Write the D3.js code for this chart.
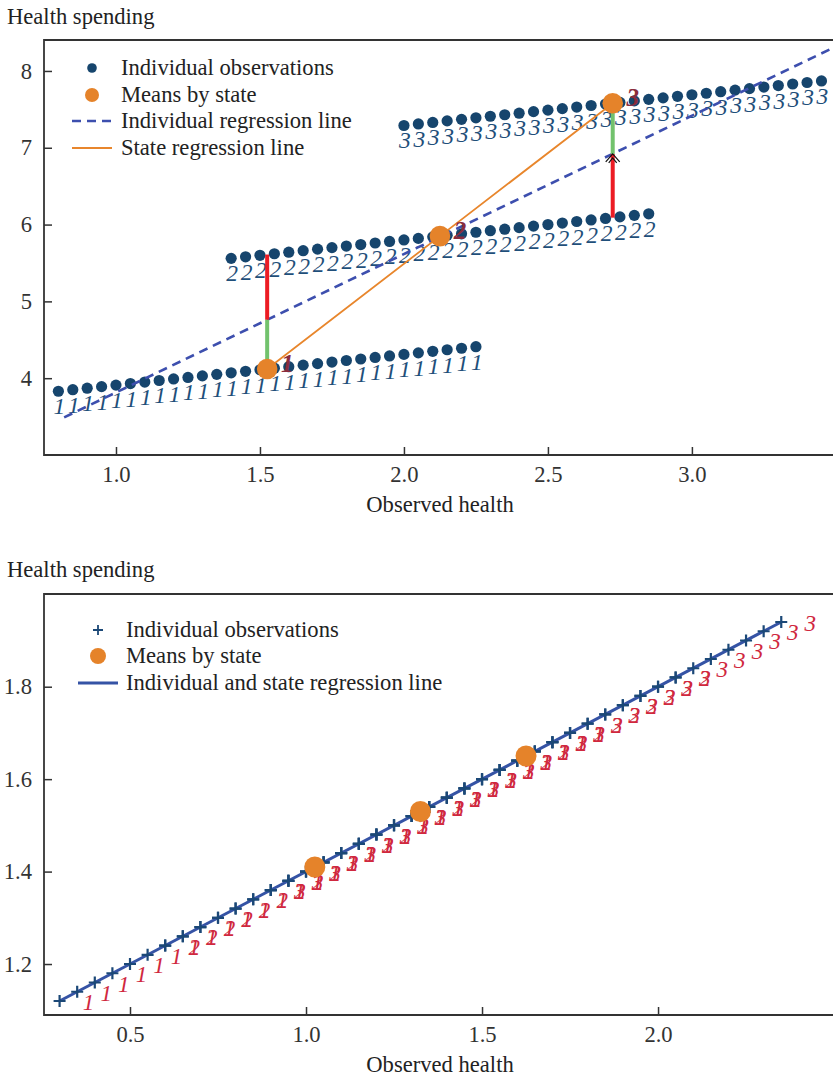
<!DOCTYPE html>
<html>
<head>
<meta charset="utf-8">
<script src="https://cdn.jsdelivr.net/npm/d3@7"></script>
<style>
  body { margin: 0; background: #fff; }
  svg { display: block; }
</style>
</head>
<body>
<svg id="chart" width="833" height="1080"></svg>
<script>
// ---- top panel: states with their own intercepts ----
var topLabels = ["1", "2", "3"];
var topX1 = [0.80,0.85,0.90,0.95,1.00,1.05,1.10,1.15,1.20,1.25,1.30,1.35,1.40,1.45,1.50,1.55,1.60,1.65,1.70,1.75,1.80,1.85,1.90,1.95,2.00,2.05,2.10,2.15,2.20,2.25];
var topY1 = [3.83,3.85,3.87,3.89,3.91,3.93,3.95,3.97,3.99,4.01,4.03,4.05,4.07,4.09,4.11,4.13,4.15,4.17,4.19,4.21,4.23,4.25,4.27,4.29,4.31,4.33,4.35,4.37,4.39,4.41];
var topX2 = [1.40,1.45,1.50,1.55,1.60,1.65,1.70,1.75,1.80,1.85,1.90,1.95,2.00,2.05,2.10,2.15,2.20,2.25,2.30,2.35,2.40,2.45,2.50,2.55,2.60,2.65,2.70,2.75,2.80,2.85];
var topY2 = [5.56,5.58,5.60,5.62,5.64,5.66,5.68,5.70,5.72,5.74,5.76,5.78,5.80,5.82,5.84,5.86,5.88,5.90,5.92,5.94,5.96,5.98,6.00,6.02,6.04,6.06,6.08,6.10,6.12,6.14];
var topX3 = [2.00,2.05,2.10,2.15,2.20,2.25,2.30,2.35,2.40,2.45,2.50,2.55,2.60,2.65,2.70,2.75,2.80,2.85,2.90,2.95,3.00,3.05,3.10,3.15,3.20,3.25,3.30,3.35,3.40,3.45];
var topY3 = [7.29,7.31,7.33,7.35,7.37,7.39,7.41,7.43,7.45,7.47,7.49,7.51,7.53,7.55,7.57,7.59,7.61,7.63,7.65,7.67,7.69,7.71,7.73,7.75,7.77,7.79,7.81,7.83,7.85,7.87];
var topMeanX = [1.525, 2.125, 2.725];
var topMeanY = [4.12, 5.85, 7.58];
var topIndivLineX = [0.82, 3.49];
var topIndivLineY = [3.49, 8.30];
// vertical gaps: green = state effect part, red = rest
var greenX = [1.525, 2.725], greenY0 = [4.12, 6.92], greenY1 = [4.76, 7.58];
var redX = [1.525, 2.725], redY0 = [4.76, 6.09], redY1 = [5.61, 6.92];
var topXTicks = [1.0, 1.5, 2.0, 2.5, 3.0];
var topYTicks = [4, 5, 6, 7, 8];

// ---- bottom panel: no state effect ----
var botX1 = [0.30,0.35,0.40,0.45,0.50,0.55,0.60,0.65,0.70,0.75,0.80,0.85,0.90,0.95,1.00,1.05,1.10,1.15,1.20,1.25,1.30,1.35,1.40,1.45,1.50,1.55,1.60,1.65,1.70,1.75];
var botY1 = [1.12,1.14,1.16,1.18,1.20,1.22,1.24,1.26,1.28,1.30,1.32,1.34,1.36,1.38,1.40,1.42,1.44,1.46,1.48,1.50,1.52,1.54,1.56,1.58,1.60,1.62,1.64,1.66,1.68,1.70];
var botX2 = [0.60,0.65,0.70,0.75,0.80,0.85,0.90,0.95,1.00,1.05,1.10,1.15,1.20,1.25,1.30,1.35,1.40,1.45,1.50,1.55,1.60,1.65,1.70,1.75,1.80,1.85,1.90,1.95,2.00,2.05];
var botY2 = [1.24,1.26,1.28,1.30,1.32,1.34,1.36,1.38,1.40,1.42,1.44,1.46,1.48,1.50,1.52,1.54,1.56,1.58,1.60,1.62,1.64,1.66,1.68,1.70,1.72,1.74,1.76,1.78,1.80,1.82];
var botX3 = [0.90,0.95,1.00,1.05,1.10,1.15,1.20,1.25,1.30,1.35,1.40,1.45,1.50,1.55,1.60,1.65,1.70,1.75,1.80,1.85,1.90,1.95,2.00,2.05,2.10,2.15,2.20,2.25,2.30,2.35];
var botY3 = [1.36,1.38,1.40,1.42,1.44,1.46,1.48,1.50,1.52,1.54,1.56,1.58,1.60,1.62,1.64,1.66,1.68,1.70,1.72,1.74,1.76,1.78,1.80,1.82,1.84,1.86,1.88,1.90,1.92,1.94];
var botMeanX = [1.025, 1.325, 1.625];
var botMeanY = [1.41, 1.53, 1.65];
var botLineX = [0.30, 2.35];
var botLineY = [1.12, 1.94];
var botXTicks = [0.5, 1.0, 1.5, 2.0];
var botYTicks = [1.2, 1.4, 1.6, 1.8];

var font = '"Liberation Serif", "Times New Roman", serif';
var fontSize = "22.6px";
var navy = "#16456d", orange = "#e5832a", dashBlue = "#3d4fae";
var svg = d3.select("#chart");

var xTop = d3.scaleLinear().domain([0.75, 3.49]).range([44, 833]);
var yTop = d3.scaleLinear().domain([3.0, 8.403]).range([455, 40]);
var xBot = d3.scaleLinear().domain([0.2557, 2.497]).range([44, 833]);
var yBot = d3.scaleLinear().domain([1.0897, 2.0006]).range([1015, 594]);

function addText(x, y, txt, anchor) {
  return svg.append("text").attr("x", x).attr("y", y)
    .attr("text-anchor", anchor || "start")
    .style("font-family", font).style("font-size", fontSize).attr("fill", "#222")
    .text(txt);
}

function addAxes(x, y, xTicks, yTicks, xFmt, yFmt) {
  var x0 = x.range()[0], x1 = x.range()[1], y0 = y.range()[0], y1 = y.range()[1];
  var gx = svg.append("g").attr("transform", "translate(0," + y0 + ")")
    .call(d3.axisBottom(x).tickValues(xTicks).tickFormat(xFmt).tickSizeInner(-8).tickSizeOuter(0).tickPadding(11));
  var gy = svg.append("g").attr("transform", "translate(" + x0 + ",0)")
    .call(d3.axisLeft(y).tickValues(yTicks).tickFormat(yFmt).tickSizeInner(-8).tickSizeOuter(0).tickPadding(12));
  [gx, gy].forEach(function (g) {
    g.select(".domain").remove();
    g.selectAll(".tick line").attr("stroke", "#333").attr("stroke-width", 1.5);
    g.selectAll(".tick text").attr("fill", "#333")
      .style("font-family", font).style("font-size", fontSize);
  });
  // frame: top, left, bottom (right side runs off the page)
  svg.append("path")
    .attr("d", "M" + x1 + "," + y1 + "H" + x0 + "V" + y0 + "H" + x1)
    .attr("fill", "none").attr("stroke", "#333").attr("stroke-width", 1.8);
}

// ================= TOP PANEL =================
var topStates = [
  { label: topLabels[0], pts: d3.zip(topX1, topY1) },
  { label: topLabels[1], pts: d3.zip(topX2, topY2) },
  { label: topLabels[2], pts: d3.zip(topX3, topY3) }
];

addAxes(xTop, yTop, topXTicks, topYTicks, d3.format(".1f"), d3.format("d"));
addText(7, 24, "Health spending");
addText(440, 512, "Observed health", "middle");

var gTop = svg.append("g");

topStates.forEach(function (s) {
  gTop.selectAll(null).data(s.pts).enter().append("circle")
    .attr("cx", function (d) { return xTop(d[0]); })
    .attr("cy", function (d) { return yTop(d[1]); })
    .attr("r", 5.6)
    .attr("fill", navy);
  gTop.selectAll(null).data(s.pts).enter().append("text")
    .attr("x", function (d) { return xTop(d[0]) + 1; })
    .attr("y", function (d) { return yTop(d[1]) + 23; })
    .attr("text-anchor", "middle")
    .style("font-family", font).style("font-size", "23.5px").style("font-style", "italic")
    .attr("fill", "#1f4f7a")
    .text(s.label);
});

// individual regression line (dashed)
gTop.append("path")
  .datum(d3.zip(topIndivLineX, topIndivLineY))
  .attr("d", d3.line().x(function (d) { return xTop(d[0]); }).y(function (d) { return yTop(d[1]); }))
  .attr("fill", "none").attr("stroke", dashBlue).attr("stroke-width", 2.6)
  .attr("stroke-dasharray", "9,6");

// state regression line, through the means
gTop.append("path")
  .datum(d3.zip(topMeanX, topMeanY))
  .attr("d", d3.line().x(function (d) { return xTop(d[0]); }).y(function (d) { return yTop(d[1]); }))
  .attr("fill", "none").attr("stroke", "#e8862c").attr("stroke-width", 1.8);

// red and green gap segments
gTop.selectAll(null).data(d3.range(redX.length)).enter().append("line")
  .attr("x1", function (i) { return xTop(redX[i]); })
  .attr("x2", function (i) { return xTop(redX[i]); })
  .attr("y1", function (i) { return yTop(redY0[i]); })
  .attr("y2", function (i) { return yTop(redY1[i]); })
  .attr("stroke", "#ec1c24").attr("stroke-width", 4);
gTop.selectAll(null).data(d3.range(greenX.length)).enter().append("line")
  .attr("x1", function (i) { return xTop(greenX[i]); })
  .attr("x2", function (i) { return xTop(greenX[i]); })
  .attr("y1", function (i) { return yTop(greenY0[i]); })
  .attr("y2", function (i) { return yTop(greenY1[i]); })
  .attr("stroke", "#72c26d").attr("stroke-width", 4);

// small black arrow head at the top of the second red segment
gTop.append("path")
  .attr("transform", "translate(" + xTop(redX[1]) + "," + yTop(redY1[1]) + ")")
  .attr("d", "M-7,8L0,0L7,8M-4,9L0,4L4,9")
  .attr("fill", "none").attr("stroke", "#111").attr("stroke-width", 1.2);

// means by state
gTop.selectAll(null).data(d3.range(topMeanX.length)).enter().append("circle")
  .attr("cx", function (i) { return xTop(topMeanX[i]); })
  .attr("cy", function (i) { return yTop(topMeanY[i]); })
  .attr("r", 10.3)
  .attr("fill", orange);
gTop.selectAll(null).data(d3.range(topMeanX.length)).enter().append("text")
  .attr("x", function (i) { return xTop(topMeanX[i]) + 20; })
  .attr("y", function (i) { return yTop(topMeanY[i]) + 3; })
  .attr("text-anchor", "middle")
  .style("font-family", font).style("font-size", "25px")
  .style("font-style", "italic").style("font-weight", "bold")
  .attr("fill", "#8b2c3c")
  .text(function (i) { return topLabels[i]; });

// top legend
var legTop = svg.append("g");
legTop.append("circle").attr("cx", 92).attr("cy", 68).attr("r", 4.8).attr("fill", navy);
legTop.append("circle").attr("cx", 92).attr("cy", 95).attr("r", 7).attr("fill", orange);
legTop.append("line").attr("x1", 72).attr("x2", 112).attr("y1", 121).attr("y2", 121)
  .attr("stroke", dashBlue).attr("stroke-width", 2.6).attr("stroke-dasharray", "9,6");
legTop.append("line").attr("x1", 72).attr("x2", 112).attr("y1", 148).attr("y2", 148)
  .attr("stroke", "#e8862c").attr("stroke-width", 1.8);
addText(121, 75, "Individual observations");
addText(121, 102, "Means by state");
addText(121, 128, "Individual regression line");
addText(121, 155, "State regression line");

// ================= BOTTOM PANEL =================
var botStates = [
  { label: "1", pts: d3.zip(botX1, botY1) },
  { label: "2", pts: d3.zip(botX2, botY2) },
  { label: "3", pts: d3.zip(botX3, botY3) }
];

addAxes(xBot, yBot, botXTicks, botYTicks, d3.format(".1f"), d3.format(".1f"));
addText(7, 577, "Health spending");
addText(440, 1072, "Observed health", "middle");

var gBot = svg.append("g");

// state labels sit to the right of each observation
botStates.forEach(function (s) {
  gBot.selectAll(null).data(s.pts).enter().append("text")
    .attr("x", function (d) { return xBot(d[0]) + 29; })
    .attr("y", function (d) { return yBot(d[1]) + 9; })
    .attr("text-anchor", "middle")
    .style("font-family", font).style("font-size", "23px").style("font-style", "italic")
    .attr("fill", "#d0283e")
    .text(s.label);
});

gBot.append("path")
  .datum(d3.zip(botLineX, botLineY))
  .attr("d", d3.line().x(function (d) { return xBot(d[0]); }).y(function (d) { return yBot(d[1]); }))
  .attr("fill", "none").attr("stroke", "#3553a5").attr("stroke-width", 3);

botStates.forEach(function (s) {
  gBot.selectAll(null).data(s.pts).enter().append("path")
    .attr("transform", function (d) { return "translate(" + xBot(d[0]) + "," + yBot(d[1]) + ")"; })
    .attr("d", "M-6,0H6M0,-6V6")
    .attr("stroke", "#1b4877").attr("stroke-width", 2.2);
});

gBot.selectAll(null).data(d3.range(botMeanX.length)).enter().append("circle")
  .attr("cx", function (i) { return xBot(botMeanX[i]); })
  .attr("cy", function (i) { return yBot(botMeanY[i]); })
  .attr("r", 10.5)
  .attr("fill", orange);

// bottom legend
var legBot = svg.append("g");
legBot.append("path").attr("transform", "translate(98,630)").attr("d", "M-5,0H5M0,-5V5")
  .attr("stroke", "#1b4877").attr("stroke-width", 1.8);
legBot.append("circle").attr("cx", 98).attr("cy", 656).attr("r", 8).attr("fill", orange);
legBot.append("line").attr("x1", 78).attr("x2", 118).attr("y1", 683).attr("y2", 683)
  .attr("stroke", "#3553a5").attr("stroke-width", 3);
addText(126, 637, "Individual observations");
addText(126, 663, "Means by state");
addText(126, 690, "Individual and state regression line");
</script>
</body>
</html>
